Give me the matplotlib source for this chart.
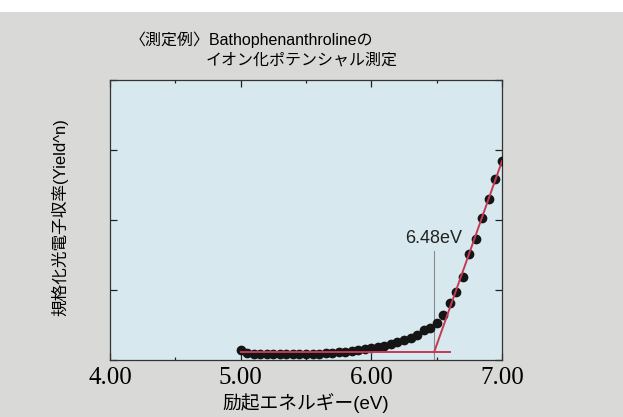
import matplotlib
matplotlib.use('Agg')
import matplotlib.pyplot as plt
from matplotlib.patches import Rectangle
from matplotlib.ticker import MultipleLocator

plt.rcParams['font.family'] = ['Liberation Sans', 'Noto Sans CJK JP', 'DejaVu Sans']

# measured yield points (excitation energy eV, normalized yield^n)
energy = [5.00, 5.05, 5.10, 5.15, 5.20, 5.25, 5.30, 5.35, 5.40, 5.45,
          5.50, 5.55, 5.60, 5.65, 5.70, 5.75, 5.80, 5.85, 5.90, 5.95,
          6.00, 6.05, 6.10, 6.15, 6.20, 6.25, 6.30, 6.35, 6.40, 6.45,
          6.50, 6.55, 6.60, 6.65, 6.70, 6.75, 6.80, 6.85, 6.90, 6.95, 7.00]
yield_n = [0.14, 0.10, 0.09, 0.08, 0.08, 0.08, 0.08, 0.08, 0.08, 0.08,
           0.09, 0.09, 0.09, 0.10, 0.10, 0.11, 0.12, 0.13, 0.14, 0.16,
           0.17, 0.19, 0.20, 0.23, 0.26, 0.29, 0.31, 0.36, 0.43, 0.46,
           0.53, 0.64, 0.81, 0.97, 1.19, 1.51, 1.73, 2.03, 2.30, 2.58, 2.84]

# fitted lines
baseline_x = [5.00, 6.60]
baseline_y = [0.11, 0.11]
slope_x = [6.48, 7.00]
slope_y = [0.11, 2.84]
threshold = 6.48

fig = plt.figure(figsize=(6.23, 4.17), dpi=100)
fig.patch.set_facecolor('#d9d9d7')
fig.patches.append(Rectangle((0, 1 - 12 / 417), 1, 12 / 417, transform=fig.transFigure,
                             facecolor='white', edgecolor='none', zorder=0))

ax = fig.add_axes([110 / 623, 57 / 417, 392 / 623, 280 / 417])
ax.set_facecolor('#d7e9ef')

red = '#c43a55'
ax.plot(energy, yield_n, 'o', color='#151515', ms=6, zorder=3)
ax.plot(baseline_x, baseline_y, color=red, lw=1.4, zorder=4)
ax.plot(slope_x, slope_y, color=red, lw=1.4, zorder=4)
ax.plot([threshold, threshold], [0, 1.55], color='#8a8a8a', lw=0.8, zorder=1)
ax.text(threshold, 1.74, '6.48eV', ha='center', va='center', fontsize=13,
        color='#222222')

ax.set_xlim(4.0, 7.0)
ax.set_ylim(0, 4)
ax.xaxis.set_minor_locator(MultipleLocator(0.5))
ax.yaxis.set_major_locator(MultipleLocator(1.0))
ax.set_xticks([4.0, 5.0, 6.0, 7.0])
ax.set_xticklabels(['4.00', '5.00', '6.00', '7.00'], family='Liberation Serif', fontsize=18)
ax.set_yticklabels([])
ax.tick_params(axis='both', which='major', direction='in', length=5, width=0.9,
               top=True, right=True, color='#222222')
ax.tick_params(axis='both', which='minor', direction='in', length=2.5, width=0.9,
               top=True, right=True, color='#222222')
ax.tick_params(axis='x', pad=5)
for s in ax.spines.values():
    s.set_color('#333333')
    s.set_linewidth(0.9)

ax.set_xlabel('励起エネルギー(eV)', fontsize=13.5, labelpad=3)
fig.text(60 / 623, 1 - 217 / 417, '規格化光電子収率(Yield^n)', rotation=90,
         ha='center', va='center', fontsize=12)

fig.text(130 / 623, 1 - 40 / 417, '〈測定例〉Bathophenanthrolineの', ha='left', va='center',
         fontsize=11.5)
fig.text(206 / 623, 1 - 60 / 417, 'イオン化ポテンシャル測定', ha='left', va='center',
         fontsize=11.5)

fig.savefig('out.png', dpi=100, facecolor=fig.get_facecolor())
